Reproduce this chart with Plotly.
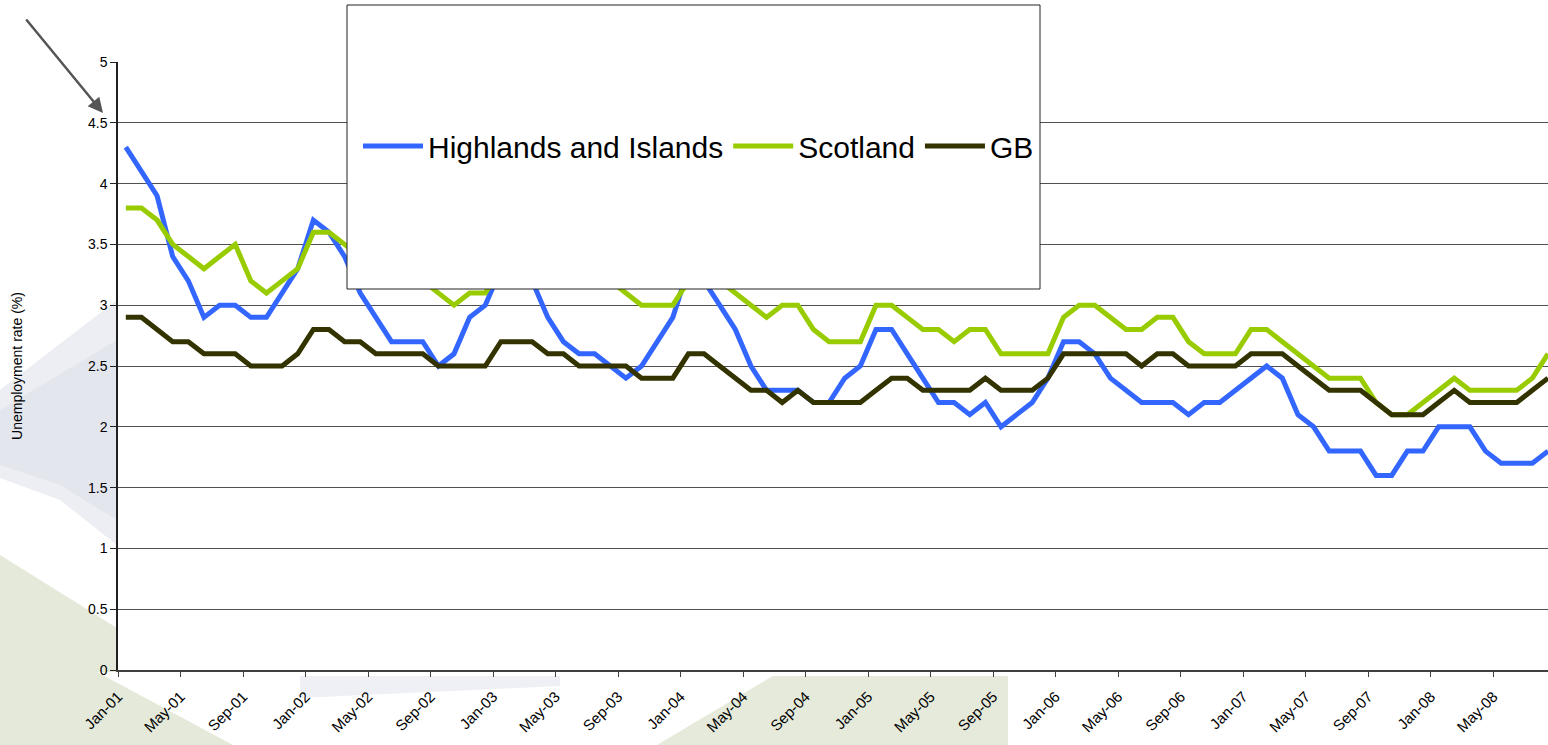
import plotly.graph_objects as go
import pandas as pd

# ---- data ----
months = list(pd.date_range("2001-01-01", "2008-08-01", freq="MS").strftime("%b-%y"))

highlands = [4.3, 4.1, 3.9, 3.4, 3.2, 2.9, 3.0, 3.0, 2.9, 2.9, 3.1, 3.3,
             3.7, 3.6, 3.4, 3.1, 2.9, 2.7, 2.7, 2.7, 2.5, 2.6, 2.9, 3.0,
             3.3, 3.4, 3.2, 2.9, 2.7, 2.6, 2.6, 2.5, 2.4, 2.5, 2.7, 2.9,
             3.3, 3.2, 3.0, 2.8, 2.5, 2.3, 2.3, 2.3, 2.2, 2.2, 2.4, 2.5,
             2.8, 2.8, 2.6, 2.4, 2.2, 2.2, 2.1, 2.2, 2.0, 2.1, 2.2, 2.4,
             2.7, 2.7, 2.6, 2.4, 2.3, 2.2, 2.2, 2.2, 2.1, 2.2, 2.2, 2.3,
             2.4, 2.5, 2.4, 2.1, 2.0, 1.8, 1.8, 1.8, 1.6, 1.6, 1.8, 1.8,
             2.0, 2.0, 2.0, 1.8, 1.7, 1.7, 1.7, 1.8]

scotland = [3.8, 3.8, 3.7, 3.5, 3.4, 3.3, 3.4, 3.5, 3.2, 3.1, 3.2, 3.3,
            3.6, 3.6, 3.5, 3.4, 3.3, 3.3, 3.2, 3.2, 3.1, 3.0, 3.1, 3.1,
            3.3, 3.3, 3.3, 3.3, 3.2, 3.2, 3.2, 3.2, 3.1, 3.0, 3.0, 3.0,
            3.2, 3.2, 3.2, 3.1, 3.0, 2.9, 3.0, 3.0, 2.8, 2.7, 2.7, 2.7,
            3.0, 3.0, 2.9, 2.8, 2.8, 2.7, 2.8, 2.8, 2.6, 2.6, 2.6, 2.6,
            2.9, 3.0, 3.0, 2.9, 2.8, 2.8, 2.9, 2.9, 2.7, 2.6, 2.6, 2.6,
            2.8, 2.8, 2.7, 2.6, 2.5, 2.4, 2.4, 2.4, 2.2, 2.1, 2.1, 2.2,
            2.3, 2.4, 2.3, 2.3, 2.3, 2.3, 2.4, 2.6]

gb = [2.9, 2.9, 2.8, 2.7, 2.7, 2.6, 2.6, 2.6, 2.5, 2.5, 2.5, 2.6,
      2.8, 2.8, 2.7, 2.7, 2.6, 2.6, 2.6, 2.6, 2.5, 2.5, 2.5, 2.5,
      2.7, 2.7, 2.7, 2.6, 2.6, 2.5, 2.5, 2.5, 2.5, 2.4, 2.4, 2.4,
      2.6, 2.6, 2.5, 2.4, 2.3, 2.3, 2.2, 2.3, 2.2, 2.2, 2.2, 2.2,
      2.3, 2.4, 2.4, 2.3, 2.3, 2.3, 2.3, 2.4, 2.3, 2.3, 2.3, 2.4,
      2.6, 2.6, 2.6, 2.6, 2.6, 2.5, 2.6, 2.6, 2.5, 2.5, 2.5, 2.5,
      2.6, 2.6, 2.6, 2.5, 2.4, 2.3, 2.3, 2.3, 2.2, 2.1, 2.1, 2.1,
      2.2, 2.3, 2.2, 2.2, 2.2, 2.2, 2.3, 2.4]

series_names = ["Highlands and Islands", "Scotland", "GB"]
series_colors = ["#3366ff", "#99cc00", "#333300"]
y_ticks = [0, 0.5, 1, 1.5, 2, 2.5, 3, 3.5, 4, 4.5, 5]
y_tick_text = ["0", "0.5", "1", "1.5", "2", "2.5", "3", "3.5", "4", "4.5", "5"]

# ---- layout geometry ----
W, H = 1548, 745
L, R, T, B = 118, 0, 62, 75
PW, PH = W - L - R, H - T - B


def px(x):
    return (x - L) / PW


def py(y):
    return (H - B - y) / PH


xpos = list(range(len(months)))
tickvals = [i - 0.5 for i in range(0, len(months), 4)]
ticktext = [months[i] for i in range(0, len(months), 4)]

fig = go.Figure()
for name, vals, col in zip(series_names, [highlands, scotland, gb], series_colors):
    fig.add_trace(go.Scatter(
        x=xpos, y=vals, name=name, mode="lines",
        line=dict(color=col, width=5),
        customdata=months,
        hovertemplate="%{customdata}: %{y}<extra>" + name + "</extra>",
    ))

shapes = []
# faint background decorations in the margins
bg_polys = [
    ([(0, 390), (117, 300), (117, 545), (60, 500), (0, 478)], "#eceef3"),
    ([(0, 410), (117, 340), (117, 520), (60, 485), (0, 465)], "#e4e6ee"),
    ([(0, 555), (117, 628), (117, 672), (97, 672), (233, 745), (0, 745)], "#e4e9da"),
    ([(300, 676), (560, 676), (560, 686), (300, 698)], "#eff0f5"),
    ([(657, 745), (773, 676), (1008, 676), (1008, 745)], "#e5eadb"),
]
for pts, colr in bg_polys:
    path = "M " + " L ".join(f"{px(a):.4f},{py(b):.4f}" for a, b in pts) + " Z"
    shapes.append(dict(type="path", xref="paper", yref="paper", path=path,
                       fillcolor=colr, line=dict(width=0), layer="below"))

# legend box (opaque, covering part of the plot)
shapes.append(dict(type="rect", xref="paper", yref="paper",
                   x0=px(347), x1=px(1040), y0=py(289), y1=py(5),
                   fillcolor="white", line=dict(color="#222222", width=1),
                   layer="above"))

fig.update_layout(
    width=W, height=H,
    margin=dict(l=L, r=R, t=T, b=B, pad=0),
    paper_bgcolor="white", plot_bgcolor="white",
    font=dict(family="Arial, Liberation Sans, sans-serif", color="#000000"),
    shapes=shapes,
    showlegend=True,
    legend=dict(orientation="h", x=px(358), y=py(146), xanchor="left", yanchor="middle",
                bgcolor="rgba(0,0,0,0)", font=dict(size=30, color="#000000"),
                itemwidth=60, traceorder="normal"),
    xaxis=dict(range=[-0.5, 91.0], tickmode="array", tickvals=tickvals, ticktext=ticktext,
               tickangle=-45, tickfont=dict(size=15), showgrid=False, zeroline=False,
               showline=True, linecolor="#404040", linewidth=2,
               ticks="outside", ticklen=5, tickcolor="#404040", tickwidth=1,
               ticklabelstandoff=5),
    yaxis=dict(range=[0, 5], tickmode="array", tickvals=y_ticks, ticktext=y_tick_text,
               tickfont=dict(size=14), showgrid=True, gridcolor="#505050", gridwidth=1,
               zeroline=False, showline=True, linecolor="#202020", linewidth=1.5,
               ticks="outside", ticklen=6, tickcolor="#202020",
               title=dict(text="Unemployment rate (%)", font=dict(size=14), standoff=62)),
    annotations=[dict(xref="paper", yref="paper", x=px(103), y=py(113), text="",
                      showarrow=True, arrowhead=2, arrowsize=1.2, arrowwidth=2.5,
                      arrowcolor="#555555", ax=25 - 103, ay=18 - 113)],
)

fig.write_html("out.html", config={"displayModeBar": False},
               post_script="document.body.style.margin='0px';")
